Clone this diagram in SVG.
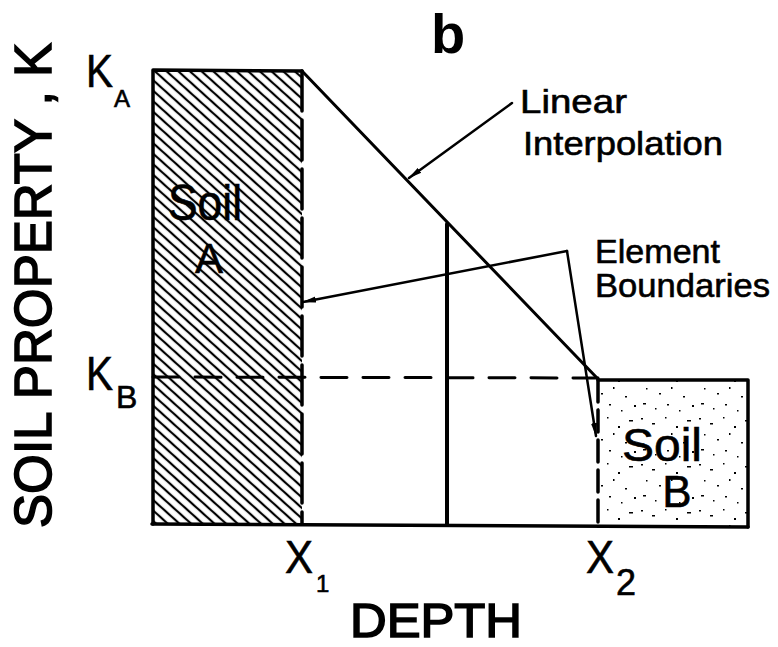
<svg xmlns="http://www.w3.org/2000/svg" width="778" height="647" viewBox="0 0 778 647">
<defs>
<style>
.lbl{font-family:"Liberation Sans","DejaVu Sans",sans-serif;fill:#000}
.hv{stroke:#000;stroke-width:1.6}
.md{stroke:#000;stroke-width:0.6}
.ln{stroke:#000;fill:none;stroke-linecap:round;stroke-linejoin:round}
</style>
<pattern id="hatch" patternUnits="userSpaceOnUse" width="20" height="7.8" patternTransform="rotate(42)">
<line x1="0" y1="3.9" x2="20" y2="3.9" stroke="#000" stroke-width="2.2"/>
</pattern>
<pattern id="stip" patternUnits="userSpaceOnUse" width="58" height="46">
<g fill="#000">
<rect x="3" y="4" width="2" height="1.5"/><rect x="14" y="9" width="3" height="1.5"/>
<rect x="27" y="3" width="1.5" height="1.5"/><rect x="38" y="12" width="2" height="2"/>
<rect x="49" y="6" width="4" height="1.5"/><rect x="8" y="20" width="1.5" height="1.5"/>
<rect x="21" y="25" width="2" height="1.5"/><rect x="33" y="19" width="1.5" height="2"/>
<rect x="45" y="28" width="2" height="1.5"/><rect x="5" y="35" width="3" height="1.5"/>
<rect x="17" y="40" width="1.5" height="1.5"/><rect x="29" y="36" width="2" height="1.5"/>
<rect x="41" y="42" width="1.5" height="1.5"/><rect x="54" y="37" width="2" height="2"/>
</g>
</pattern>
<marker id="ah" viewBox="0 0 14 8" refX="13" refY="4" markerWidth="14" markerHeight="8" markerUnits="userSpaceOnUse" orient="auto">
<path d="M0,1 L14,4 L0,7 Z" fill="#000"/>
</marker>
</defs>
<rect width="778" height="647" fill="#fff"/>

<g id="soilA">
<rect x="153" y="70" width="149" height="454" fill="url(#hatch)"/>
<path class="ln" d="M302,71 L153,70 L153,524" stroke-width="3.5"/>
<line class="ln" x1="302" y1="71" x2="302" y2="524" stroke-width="3.5" stroke-dasharray="40 9" stroke-linecap="butt"/>
<text class="lbl md" x="168" y="220" font-size="50" textLength="74" lengthAdjust="spacingAndGlyphs">Soil</text>
<text class="lbl md" x="209" y="273" font-size="42" text-anchor="middle">A</text>
</g>

<g id="soilB">
<rect x="598" y="380" width="150" height="146" fill="url(#stip)"/>
<path class="ln" d="M598,380 L748,380 L748,527" stroke-width="3.5"/>
<line class="ln" x1="598" y1="380" x2="598" y2="526" stroke-width="3.5" stroke-dasharray="22 8" stroke-linecap="butt"/>
<text class="lbl md" x="622" y="461" font-size="46" textLength="80" lengthAdjust="spacingAndGlyphs">Soil</text>
<text class="lbl md" x="677" y="507" font-size="44" text-anchor="middle">B</text>
</g>

<g id="axes">
<line class="ln" x1="152" y1="524" x2="748" y2="527" stroke-width="3.5"/>
<text class="lbl hv" transform="translate(51,528) rotate(-90)" font-size="52" textLength="485" lengthAdjust="spacingAndGlyphs">SOIL PROPERTY , K</text>
<text class="lbl hv" x="350" y="637" font-size="48" textLength="172" lengthAdjust="spacingAndGlyphs">DEPTH</text>
<text class="lbl" x="431" y="53" font-size="56" font-weight="bold">b</text>
<text class="lbl md" x="86" y="87" font-size="46" textLength="27" lengthAdjust="spacingAndGlyphs">K</text>
<text class="lbl md" x="114" y="107" font-size="24">A</text>
<text class="lbl md" x="86" y="390" font-size="48" textLength="27" lengthAdjust="spacingAndGlyphs">K</text>
<text class="lbl md" x="116" y="408" font-size="32">B</text>
<text class="lbl md" x="285" y="573" font-size="46" textLength="28" lengthAdjust="spacingAndGlyphs">X</text>
<text class="lbl md" x="316" y="592" font-size="24">1</text>
<text class="lbl md" x="586" y="573" font-size="46" textLength="28" lengthAdjust="spacingAndGlyphs">X</text>
<text class="lbl md" x="616" y="595" font-size="36">2</text>
</g>

<g id="kb-line">
<line class="ln" x1="153" y1="377" x2="598" y2="378" stroke-width="3" stroke-dasharray="26 16" stroke-linecap="butt"/>
</g>

<g id="interpolation">
<line class="ln" x1="302" y1="71" x2="598" y2="379" stroke-width="3"/>
</g>

<g id="element-boundary">
<line class="ln" x1="447" y1="224" x2="447" y2="525" stroke-width="4"/>
</g>

<g id="labels">
<text class="lbl md" x="520" y="113" font-size="33" textLength="107" lengthAdjust="spacingAndGlyphs">Linear</text>
<text class="lbl md" x="523" y="155" font-size="33" textLength="200" lengthAdjust="spacingAndGlyphs">Interpolation</text>
<text class="lbl md" x="595" y="263" font-size="33" textLength="125" lengthAdjust="spacingAndGlyphs">Element</text>
<text class="lbl md" x="595" y="297" font-size="33" textLength="175" lengthAdjust="spacingAndGlyphs">Boundaries</text>
</g>

<g id="connectors">
<line class="ln" x1="512" y1="103" x2="409" y2="178" stroke-width="2.5" marker-end="url(#ah)"/>
<line class="ln" x1="567" y1="251" x2="303" y2="302" stroke-width="2.5" marker-end="url(#ah)"/>
<line class="ln" x1="567" y1="251" x2="596" y2="436" stroke-width="2.5" marker-end="url(#ah)"/>
</g>
</svg>
